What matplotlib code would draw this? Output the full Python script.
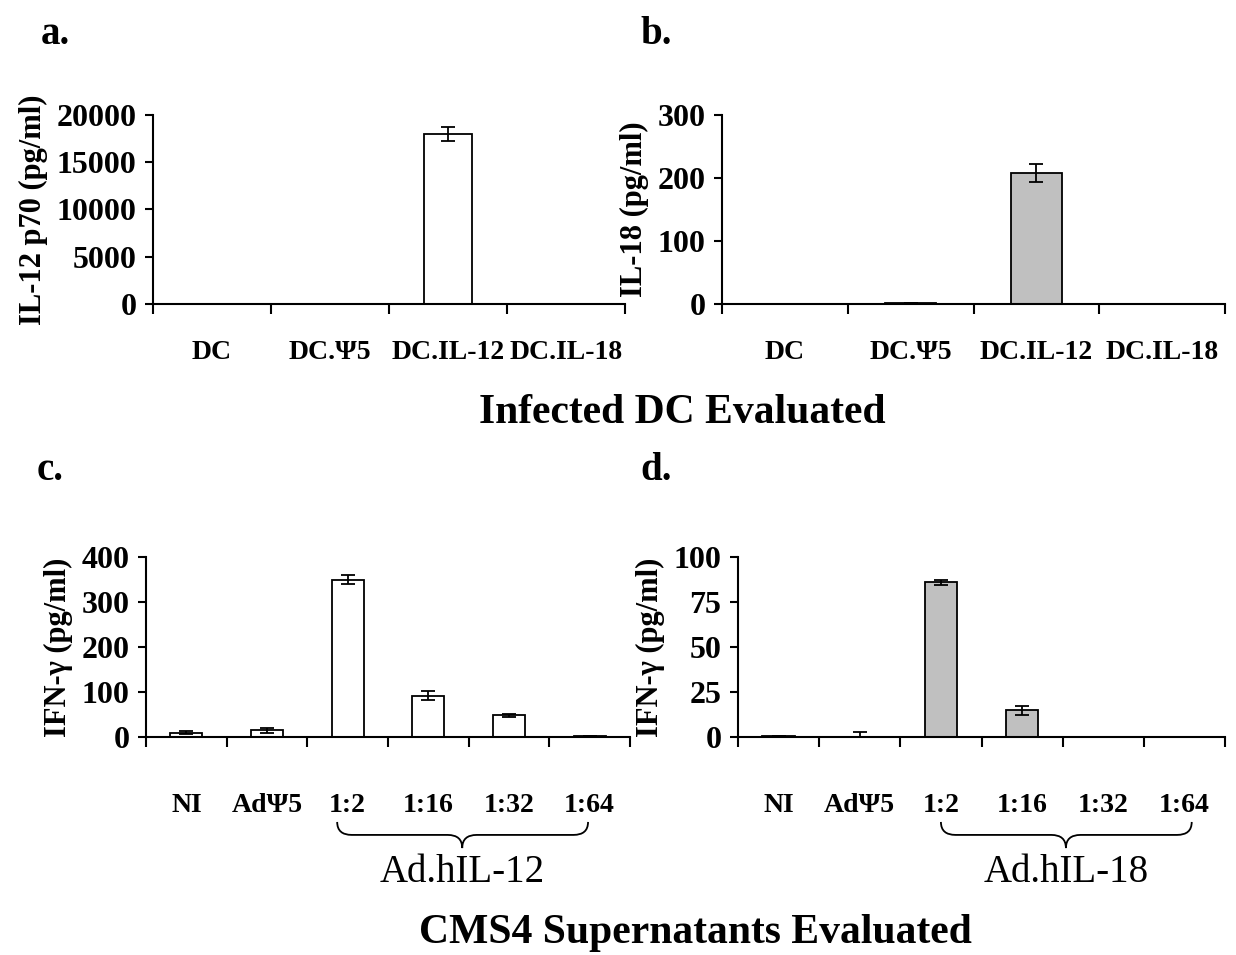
import matplotlib
matplotlib.use("Agg")
import matplotlib.pyplot as plt
from matplotlib.path import Path
from matplotlib.patches import PathPatch
import matplotlib.transforms as mtransforms

plt.rcParams['font.family'] = ['Liberation Serif', 'DejaVu Serif']
plt.rcParams['font.weight'] = 'bold'
plt.rcParams['axes.labelweight'] = 'bold'

# panel a / b : infected DC
dc_labels = ['DC', 'DC.\u03a85', 'DC.IL-12', 'DC.IL-18']
il12_vals = [0, 0, 18000, 0]
il12_err = [0, 0, 700, 0]
il18_vals = [0, 2, 208, 0]
il18_err = [0, 0, 15, 0]

# panel c / d : CMS4 supernatants
cms_labels = ['NI', 'Ad\u03a85', '1:2', '1:16', '1:32', '1:64']
ifn12_vals = [10, 15, 350, 92, 48, 3]
ifn12_err = [3, 5, 10, 10, 3, 0]
ifn18_vals = [0.5, 0, 86, 15, 0, 0]
ifn18_err_lo = [0, 0, 1.5, 2.5, 0, 0]
ifn18_err_hi = [0, 3, 1.5, 2.5, 0, 0]

W, H = 1236, 955
fig = plt.figure(figsize=(W / 100, H / 100), dpi=100)


def make_ax(left, right, top, bottom):
    return fig.add_axes([left / W, 1 - bottom / H, (right - left) / W, (bottom - top) / H])


def style(ax, n, ymax, yticks, ylabel, labels, pad):
    ax.set_xlim(-0.5, n - 0.5)
    ax.set_ylim(0, ymax)
    ax.spines['top'].set_visible(False)
    ax.spines['right'].set_visible(False)
    for s in ('left', 'bottom'):
        ax.spines[s].set_linewidth(1.5)
    ax.set_yticks(yticks)
    ax.tick_params(axis='y', length=6, width=1.5, labelsize=23, pad=6)
    ax.set_xticks(range(n))
    ax.set_xticklabels(labels)
    ax.tick_params(axis='x', which='major', length=0, labelsize=20, pad=pad)
    ax.set_xticks([i - 0.5 for i in range(n + 1)], minor=True)
    ax.tick_params(axis='x', which='minor', length=7, width=1.5)
    ax.set_ylabel(ylabel, fontsize=22, labelpad=6)


def brace(ax, x0, x1, xt, y0, ym, yt, d=0.18):
    tr = mtransforms.blended_transform_factory(ax.transData, ax.transAxes)
    verts = [(x0, y0), (x0, ym), (x0 + d, ym),
             (xt - d, ym), (xt, ym), (xt, yt),
             (xt, ym), (xt + d, ym),
             (x1 - d, ym), (x1, ym), (x1, y0)]
    codes = [Path.MOVETO, Path.CURVE3, Path.CURVE3,
             Path.LINETO, Path.CURVE3, Path.CURVE3,
             Path.CURVE3, Path.CURVE3,
             Path.LINETO, Path.CURVE3, Path.CURVE3]
    ax.add_patch(PathPatch(Path(verts, codes), transform=tr, fill=False,
                           lw=1.3, color='black', clip_on=False))


bar_kw = dict(width=0.4, edgecolor='black', linewidth=1.3, zorder=2)
err_kw = dict(ecolor='black', elinewidth=1.3, capsize=5, capthick=1.3)

# a
ax = make_ax(153, 625, 115, 304)
ax.bar(range(4), il12_vals, yerr=il12_err, color='white', error_kw=err_kw, **bar_kw)
style(ax, 4, 20000, [0, 5000, 10000, 15000, 20000], 'IL-12 p70 (pg/ml)', dc_labels, 26)

# b
ax = make_ax(722, 1225, 115, 304)
ax.bar(range(4), il18_vals, yerr=il18_err, color='#c0c0c0', error_kw=err_kw, **bar_kw)
style(ax, 4, 300, [0, 100, 200, 300], 'IL-18 (pg/ml)', dc_labels, 26)

# c
ax = make_ax(146, 630, 557, 737)
ax.bar(range(6), ifn12_vals, yerr=ifn12_err, color='white', error_kw=err_kw, **bar_kw)
style(ax, 6, 400, [0, 100, 200, 300, 400], 'IFN-\u03b3 (pg/ml)', cms_labels, 40)
brace(ax, 1.87, 4.98, 3.42, -0.472, -0.544, -0.617)
ax.text(3.42, -0.806, 'Ad.hIL-12', transform=mtransforms.blended_transform_factory(ax.transData, ax.transAxes),
        ha='center', va='baseline', fontsize=28, fontweight='normal')

# d
ax = make_ax(738, 1225, 557, 737)
ax.bar(range(6), ifn18_vals, yerr=[ifn18_err_lo, ifn18_err_hi], color='#c0c0c0', error_kw=err_kw, **bar_kw)
style(ax, 6, 100, [0, 25, 50, 75, 100], 'IFN-\u03b3 (pg/ml)', cms_labels, 40)
brace(ax, 2.0, 5.09, 3.54, -0.472, -0.544, -0.617)
ax.text(3.54, -0.806, 'Ad.hIL-18', transform=mtransforms.blended_transform_factory(ax.transData, ax.transAxes),
        ha='center', va='baseline', fontsize=28, fontweight='normal')

# panel letters and group titles
for lab, x, y in [('a.', 55, 35), ('b.', 656, 35), ('c.', 50, 470), ('d.', 656, 470)]:
    fig.text(x / W, 1 - y / H, lab, ha='center', va='center', fontsize=28)
fig.text(682 / W, 1 - 413 / H, 'Infected DC Evaluated', ha='center', va='center', fontsize=30)
fig.text(695 / W, 1 - 933 / H, 'CMS4 Supernatants Evaluated', ha='center', va='center', fontsize=30)

fig.savefig('out.png', dpi=100)
